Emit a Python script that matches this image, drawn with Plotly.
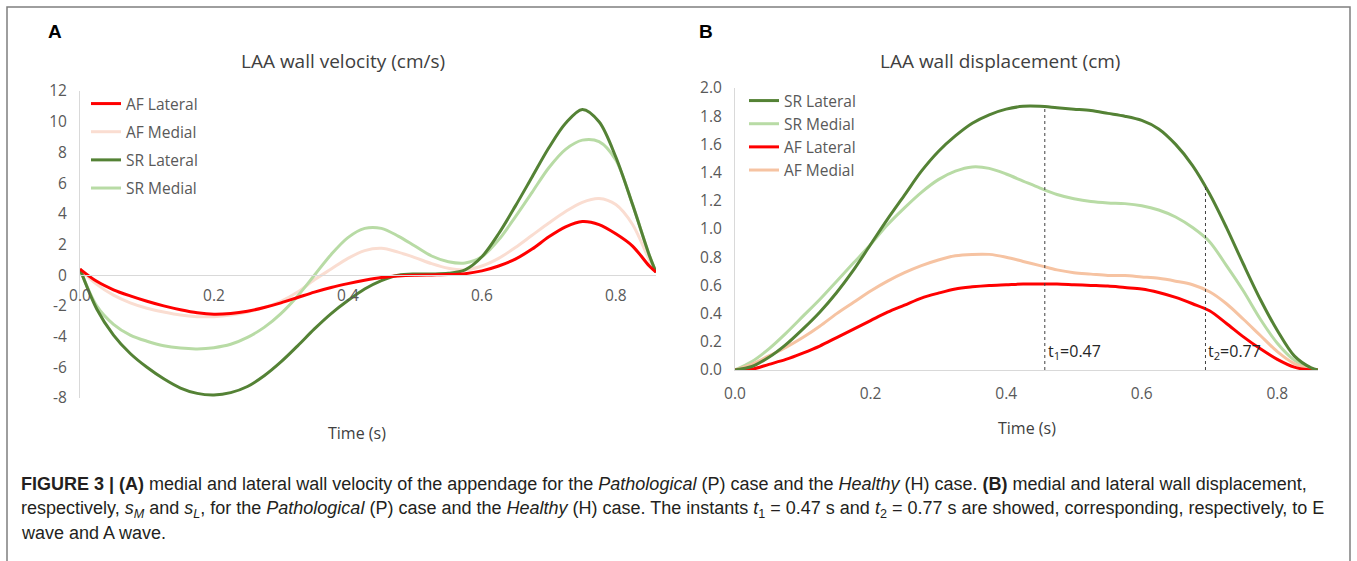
import numpy as np
import plotly.graph_objects as go

W, H = 1357, 561

# ---------------- data ----------------
time_s = [0.0, 0.025, 0.05, 0.075, 0.1, 0.125, 0.15, 0.175, 0.2, 0.225, 0.25, 0.275,
          0.3, 0.325, 0.35, 0.375, 0.4, 0.425, 0.45, 0.475, 0.5, 0.525, 0.55, 0.575,
          0.6, 0.625, 0.65, 0.675, 0.7, 0.725, 0.75, 0.775, 0.8, 0.825, 0.85, 0.86]

vel_af_lateral = [0.4, -0.4, -0.95, -1.35, -1.7, -2.0, -2.25, -2.45, -2.55, -2.5, -2.35, -2.1,
                  -1.8, -1.45, -1.1, -0.8, -0.55, -0.33, -0.15, -0.05, 0.0, 0.02, 0.04, 0.1,
                  0.28, 0.6, 1.05, 1.7, 2.5, 3.15, 3.5, 3.3, 2.7, 1.9, 0.6, 0.2]
vel_af_medial = [0.4, -0.6, -1.3, -1.8, -2.15, -2.4, -2.6, -2.7, -2.7, -2.6, -2.4, -2.1,
                 -1.7, -1.1, -0.3, 0.4, 1.1, 1.6, 1.75, 1.5, 1.15, 0.75, 0.45, 0.35,
                 0.6, 1.1, 1.8, 2.6, 3.4, 4.15, 4.75, 5.0, 4.6, 3.3, 1.0, 0.2]
vel_sr_lateral = [0.4, -2.2, -3.9, -5.1, -6.0, -6.75, -7.35, -7.7, -7.8, -7.65, -7.25, -6.55,
                  -5.65, -4.6, -3.5, -2.5, -1.65, -0.9, -0.35, 0.0, 0.08, 0.08, 0.12, 0.35,
                  1.2, 2.7, 4.5, 6.4, 8.3, 9.9, 10.8, 10.0, 7.7, 4.6, 1.3, 0.2]
vel_sr_medial = [0.4, -2.0, -3.2, -3.9, -4.3, -4.6, -4.75, -4.8, -4.72, -4.5, -4.05, -3.4,
                 -2.5, -1.35, 0.0, 1.35, 2.45, 3.05, 3.05, 2.55, 1.9, 1.25, 0.88, 0.8,
                 1.2, 2.3, 3.8, 5.4, 7.0, 8.2, 8.8, 8.7, 7.5, 4.6, 1.3, 0.2]

disp_sr_lateral = [0.0, 0.025, 0.09, 0.18, 0.29, 0.41, 0.55, 0.71, 0.89, 1.07, 1.24, 1.41,
                   1.55, 1.66, 1.75, 1.81, 1.85, 1.87, 1.87, 1.86, 1.85, 1.84, 1.82, 1.80,
                   1.77, 1.71, 1.60, 1.45, 1.25, 1.01, 0.75, 0.50, 0.28, 0.10, 0.015, 0.0]
disp_sr_medial = [0.0, 0.06, 0.15, 0.26, 0.38, 0.50, 0.63, 0.76, 0.89, 1.03, 1.15, 1.26,
                  1.35, 1.41, 1.44, 1.43, 1.39, 1.34, 1.29, 1.245, 1.215, 1.195, 1.185, 1.18,
                  1.165, 1.135, 1.085, 1.01, 0.91, 0.74, 0.56, 0.36, 0.19, 0.07, 0.01, 0.0]
disp_af_lateral = [0.0, 0.005, 0.04, 0.075, 0.12, 0.17, 0.23, 0.29, 0.35, 0.41, 0.46, 0.51,
                   0.545, 0.575, 0.59, 0.60, 0.605, 0.61, 0.61, 0.61, 0.605, 0.60, 0.595, 0.585,
                   0.575, 0.55, 0.515, 0.47, 0.42, 0.33, 0.235, 0.15, 0.075, 0.02, 0.0, 0.0]
disp_af_medial = [0.0, 0.04, 0.10, 0.16, 0.23, 0.31, 0.40, 0.48, 0.56, 0.63, 0.69, 0.74,
                  0.78, 0.81, 0.82, 0.82, 0.80, 0.77, 0.74, 0.71, 0.69, 0.68, 0.67, 0.67,
                  0.66, 0.65, 0.63, 0.605, 0.555, 0.47, 0.36, 0.245, 0.13, 0.045, 0.005, 0.0]

instant_pos = [0.457, 0.694]
instant_labels = ["t<sub>1</sub>=0.47", "t<sub>2</sub>=0.77"]

x_ticks = [0.0, 0.2, 0.4, 0.6, 0.8]
x_ticktext = ["0.0", "0.2", "0.4", "0.6", "0.8"]
vel_ticks = [-8, -6, -4, -2, 0, 2, 4, 6, 8, 10, 12]
vel_ticktext = ["-8", "-6", "-4", "-2", "0", "2", "4", "6", "8", "10", "12"]
disp_ticks = [0.0, 0.2, 0.4, 0.6, 0.8, 1.0, 1.2, 1.4, 1.6, 1.8, 2.0]
disp_ticktext = ["0.0", "0.2", "0.4", "0.6", "0.8", "1.0", "1.2", "1.4", "1.6", "1.8", "2.0"]

# ---------------- style ----------------
RED = "#FF0000"
DKGREEN = "#548235"
LTGREEN = "#B8DBA5"
PINK_A = "#FADDD1"
PINK_B = "#F6C3A2"
FONT = "Open Sans"
TXT = "#404040"
AX = "#D9D9D9"


def px(x):
    return x / W


def py(y):
    return 1 - y / H


fig = go.Figure()

seriesA = [("AF Lateral", vel_af_lateral, RED), ("AF Medial", vel_af_medial, PINK_A),
           ("SR Lateral", vel_sr_lateral, DKGREEN), ("SR Medial", vel_sr_medial, LTGREEN)]
draw_order_A = [1, 3, 2, 0]
for i in draw_order_A:
    name, vals, col = seriesA[i]
    fig.add_trace(go.Scatter(x=time_s, y=vals, name=name, mode="lines",
                             line=dict(color=col, width=3, shape="spline", smoothing=0.9),
                             xaxis="x", yaxis="y", legend="legend",
                             legendgroup="A" + name, legendrank=i + 1))

seriesB = [("SR Lateral", disp_sr_lateral, DKGREEN), ("SR Medial", disp_sr_medial, LTGREEN),
           ("AF Lateral", disp_af_lateral, RED), ("AF Medial", disp_af_medial, PINK_B)]
draw_order_B = [1, 3, 2, 0]
for i in draw_order_B:
    name, vals, col = seriesB[i]
    fig.add_trace(go.Scatter(x=time_s, y=vals, name=name, mode="lines",
                             line=dict(color=col, width=3, shape="spline", smoothing=0.9),
                             xaxis="x2", yaxis="y2", legend="legend2",
                             legendgroup="B" + name, legendrank=i + 1))

# instants (dashed verticals up to SR lateral curve)
tops = np.interp(instant_pos, time_s, disp_sr_lateral)
for t, top, lab in zip(instant_pos, tops, instant_labels):
    fig.add_trace(go.Scatter(x=[t, t], y=[0, top], mode="lines", showlegend=False,
                             line=dict(color="#404040", width=1, dash="dot"),
                             xaxis="x2", yaxis="y2", hoverinfo="skip"))
    fig.add_annotation(x=t, y=0.13, xref="x2", yref="y2", text=lab, showarrow=False,
                       xanchor="left", yanchor="middle", xshift=1,
                       font=dict(family=FONT, size=16, color="#262626"))

# ---------------- axes ----------------
xA0, xA1 = px(80), px(656)
yA0, yA1 = py(398), py(91)
xB0, xB1 = px(735), px(1318)
yB0, yB1 = py(370), py(88)
velr = [-8, 12]
zero_pos = yA0 + (0 - velr[0]) / (velr[1] - velr[0]) * (yA1 - yA0)

tickfont = dict(family=FONT, size=15.5, color="#595959")
common_x = dict(range=[0, 0.86], tickvals=x_ticks, ticktext=x_ticktext, showgrid=False,
                zeroline=False, showline=True, linecolor=AX, linewidth=1, ticks="",
                tickfont=tickfont, fixedrange=True, automargin=False)
common_y = dict(showgrid=False, zeroline=False, showline=True, linecolor=AX, linewidth=1,
                ticks="", tickfont=tickfont, ticklabelstandoff=9, fixedrange=True,
                automargin=False)

legfont = dict(family=FONT, size=15.5, color="#595959")
fig.update_layout(
    width=W, height=H, autosize=False,
    margin=dict(l=0, r=0, t=0, b=0, pad=0),
    paper_bgcolor="white", plot_bgcolor="white",
    xaxis=dict(domain=[xA0, xA1], anchor="free", position=zero_pos,
               ticklabelstandoff=6, **common_x),
    yaxis=dict(domain=[yA0, yA1], range=velr, tickvals=vel_ticks, ticktext=vel_ticktext,
               anchor="x", **common_y),
    xaxis2=dict(domain=[xB0, xB1], anchor="y2", ticklabelstandoff=9, **common_x),
    yaxis2=dict(domain=[yB0, yB1], range=[0, 2.0], tickvals=disp_ticks, ticktext=disp_ticktext,
                anchor="x2", **common_y),
    legend=dict(x=px(86), y=py(87), xanchor="left", yanchor="top",
                bgcolor="rgba(0,0,0,0)", tracegroupgap=5, traceorder="grouped",
                font=legfont, itemwidth=30),
    legend2=dict(x=px(744), y=py(84), xanchor="left", yanchor="top",
                 bgcolor="rgba(0,0,0,0)", tracegroupgap=0, traceorder="grouped",
                 font=legfont, itemwidth=30),
    showlegend=True,
)

# frame
fig.add_shape(type="rect", xref="paper", yref="paper", x0=px(7), x1=px(1350),
              y0=py(566), y1=py(7), line=dict(color="#7F7F7F", width=1.5), layer="above")


# titles and labels
def label(xp, yp, text, font, xanchor="center"):
    fig.add_annotation(x=px(xp), y=py(yp), xref="paper", yref="paper", text=text,
                       showarrow=False, xanchor=xanchor, yanchor="middle", font=font)


ann_font = dict(family=FONT, size=19, color=TXT)
label(343, 61, "LAA wall velocity (cm/s)", ann_font)
label(1000, 61, "LAA wall displacement (cm)", ann_font)
label(357, 433, "Time (s)", dict(family=FONT, size=16, color=TXT))
label(1027, 428, "Time (s)", dict(family=FONT, size=16, color=TXT))
label(55, 32, "<b>A</b>", dict(family="Liberation Sans", size=19, color="black"))
label(706, 32, "<b>B</b>", dict(family="Liberation Sans", size=19, color="black"))

caption = [
    "<b>FIGURE 3 | (A)</b> medial and lateral wall velocity of the appendage for the <i>Pathological</i> (P) "
    "case and the <i>Healthy</i> (H) case. <b>(B)</b> medial and lateral wall displacement,",
    "respectively, <i>s<sub>M</sub></i> and <i>s<sub>L</sub></i>, for the <i>Pathological</i> (P) case and the "
    "<i>Healthy</i> (H) case. The instants <i>t</i><sub>1</sub> = 0.47 s and <i>t</i><sub>2</sub> = 0.77 s are "
    "showed, corresponding, respectively, to E",
    "wave and A wave.",
]
for line, yy in zip(caption, [484, 509, 533]):
    label(19, yy, line, dict(family="Liberation Sans", size=18, color="#231F20"), xanchor="left")

fig.write_html("out.html")
